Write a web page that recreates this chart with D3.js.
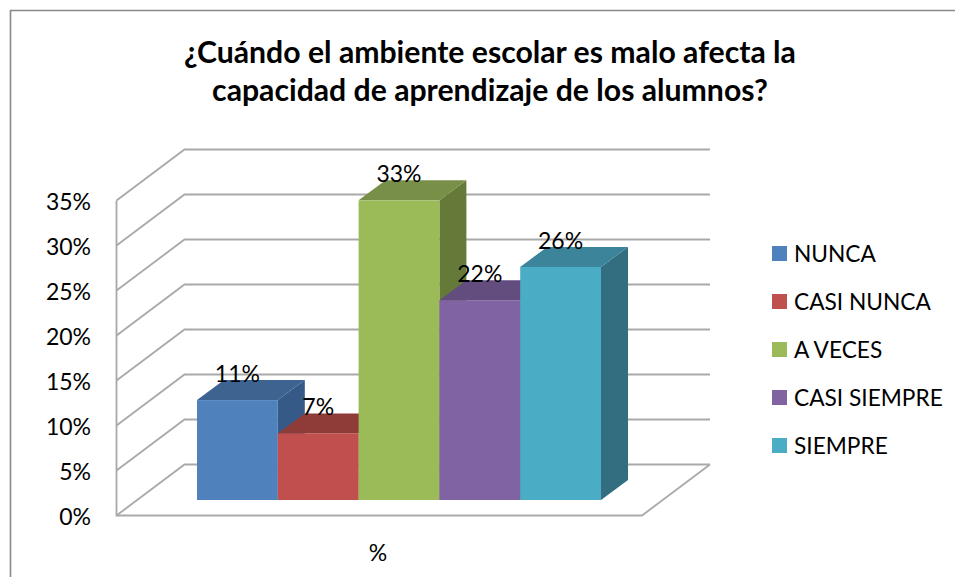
<!DOCTYPE html>
<html>
<head>
<meta charset="utf-8">
<script src="https://d3js.org/d3.v7.min.js"></script>
<style>
  html, body { margin: 0; padding: 0; background: #fff; }
  svg { display: block; }
  text { font-family: Lato, "Open Sans", sans-serif; fill: #000; }
</style>
</head>
<body>
<svg id="chart" width="955" height="577"></svg>
<script>
const titleLines = ["¿Cuándo el ambiente escolar es malo afecta la", "capacidad de aprendizaje de los alumnos?"];
const categories = ["NUNCA", "CASI NUNCA", "A VECES", "CASI SIEMPRE", "SIEMPRE"];
const values = [11.1, 7.4, 33.3, 22.2, 25.9];
const dataLabels = ["11%", "7%", "33%", "22%", "26%"];
const yTicks = [0, 5, 10, 15, 20, 25, 30, 35];
const axisName = "%";
const frontColors = ["#4f81bd", "#c0504d", "#9bbb59", "#8064a2", "#4bacc6"];
const topColors = ["#3d6391", "#8f3b39", "#788f46", "#634d7e", "#3a8499"];
const sideColors = ["#355a87", "#803432", "#657a39", "#553f6e", "#316d80"];

const svg = d3.select("#chart");

// soft edges, the original is a scaled up screenshot
const defs = svg.append("defs");
defs.append("filter").attr("id", "soft").attr("x", "-5%").attr("y", "-5%").attr("width", "110%").attr("height", "110%")
  .append("feGaussianBlur").attr("stdDeviation", 0.55);
defs.append("filter").attr("id", "softLine").attr("filterUnits", "userSpaceOnUse")
  .attr("x", 0).attr("y", 0).attr("width", 955).attr("height", 577)
  .append("feGaussianBlur").attr("stdDeviation", 0.6);

// chart border, only left and top show in the crop
svg.append("path")
  .attr("d", "M10.5,577V10.5H955")
  .attr("fill", "none").attr("stroke", "#898989").attr("stroke-width", 1.6);

// title
svg.append("g").selectAll("text").data(titleLines).enter().append("text")
  .attr("x", 490)
  .attr("y", (d, i) => 63 + i * 38)
  .attr("text-anchor", "middle")
  .attr("font-size", 30.2)
  .attr("font-weight", 700)
  .text(d => d);

// 3d offsets
const wallDx = 68, wallDy = -51;
const barDx = 27, barDy = -20;

const x = d3.scaleBand().domain(categories).range([197, 601]);
// y measured on the front plane of the axis
const y = d3.scaleLinear().domain([0, 35]).range([515.5, 200.5]);
const barBase = 500;
const h = v => y(0) - y(v);

// walls
const grid = svg.append("g").attr("fill", "none").attr("stroke", "#a9a9a9").attr("stroke-width", 1.8)
  .attr("filter", "url(#softLine)");
const frontLeft = 116.5, frontRight = 642;
grid.selectAll("path.g").data(yTicks).enter().append("path")
  .attr("class", "g")
  .attr("d", d => `M${frontLeft},${y(d)}L${frontLeft + wallDx},${y(d) + wallDy}H${frontRight + wallDx}`);
grid.append("path").attr("d", `M${frontLeft},${y(35)}V${y(0)}H${frontRight}L${frontRight + wallDx},${y(0) + wallDy}`);

// bars, left to right so every bar covers the side of the one before
const bars = svg.append("g").attr("filter", "url(#soft)")
  .selectAll("g").data(categories).enter().append("g");

bars.append("path")
  .attr("fill", (d, i) => sideColors[i])
  .attr("d", (d, i) => {
    const x1 = x(d) + x.bandwidth(), t = barBase - h(values[i]);
    return `M${x1},${t}l${barDx},${barDy}V${barBase + barDy}L${x1},${barBase}Z`;
  });
bars.append("path")
  .attr("fill", (d, i) => topColors[i])
  .attr("d", (d, i) => {
    const t = barBase - h(values[i]);
    return `M${x(d)},${t}l${barDx},${barDy}h${x.bandwidth()}l${-barDx},${-barDy}Z`;
  });
bars.append("rect")
  .attr("fill", (d, i) => frontColors[i])
  .attr("x", d => x(d))
  .attr("y", (d, i) => barBase - h(values[i]))
  .attr("width", x.bandwidth())
  .attr("height", (d, i) => h(values[i]));

// data labels
svg.append("g").selectAll("text").data(categories).enter().append("text")
  .attr("x", d => x(d) + x.bandwidth() / 2)
  .attr("y", (d, i) => barBase - h(values[i]) - 18)
  .attr("text-anchor", "middle")
  .attr("font-size", 23)
  .text((d, i) => dataLabels[i]);

// value axis labels
const yAxis = svg.append("g")
  .attr("transform", "translate(91,2)")
  .call(d3.axisLeft(y).tickValues(yTicks).tickSize(0).tickPadding(0).tickFormat(d => d + "%"));
yAxis.select(".domain").remove();
yAxis.selectAll("text").attr("font-size", 23).attr("font-family", "Lato, 'Open Sans', sans-serif");

// category axis name
svg.append("text")
  .attr("x", 378).attr("y", 561)
  .attr("text-anchor", "middle")
  .attr("font-size", 23)
  .text(axisName);

// legend
const legendY = d3.scalePoint().domain(categories).range([253.5, 445.5]);
const legend = svg.append("g").selectAll("g").data(categories).enter().append("g")
  .attr("transform", d => `translate(772,${legendY(d)})`);
legend.append("rect")
  .attr("x", 0).attr("y", -7.5).attr("width", 15).attr("height", 15)
  .attr("fill", (d, i) => frontColors[i]);
legend.append("text")
  .attr("x", 22).attr("y", 8.5)
  .attr("font-size", 22.7)
  .text(d => d);
</script>
</body>
</html>
